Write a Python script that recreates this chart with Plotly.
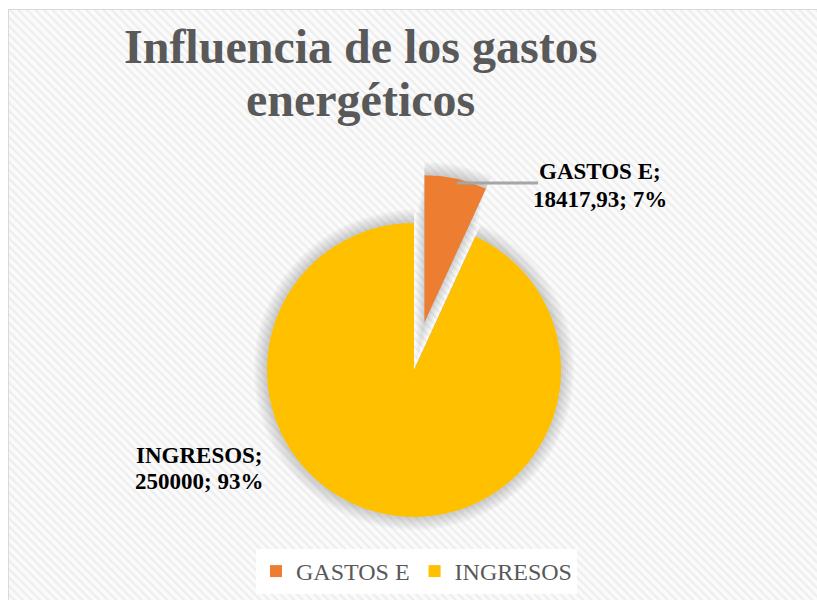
import plotly.graph_objects as go

# Data
labels = ["GASTOS E", "INGRESOS"]
values = [18417.93, 250000]
colors = ["#ED7D31", "#FFC000"]
pulls = [0.333, 0.0]

title_lines = ["Influencia de los gastos", "energéticos"]

W, H = 817, 600


def fx(x):
    return x / W


def fy(y):
    return 1 - y / H


def fmt_value(v):
    if float(v).is_integer():
        return str(int(v))
    return f"{v:.2f}".replace(".", ",")


total = sum(values)
pcts = [round(v / total * 100) for v in values]

# pie geometry (pixels)
cx, cy, r = 414, 370, 147


def pie_domain(radius, pull_list):
    # plotly shrinks the pie by (1 + largest pull) inside its domain
    half = radius * (1 + max(pull_list))
    return dict(x=[fx(cx - half), fx(cx + half)],
                y=[fy(cy + half), fy(cy - half)])


fig = go.Figure()

# patterned chart background
fig.add_trace(go.Scatter(
    x=[fx(9), 1, 1, fx(9), fx(9)], y=[0, 0, fy(10), fy(10), 0],
    mode="none", fill="toself", fillcolor="white",
    fillpattern=dict(shape="\\", fgcolor="#e1e1e1", bgcolor="#fbfbfb",
                     size=6, solidity=0.4),
    hoverinfo="skip", showlegend=False))


def shadow_pie(radius, pull_list, opacity):
    # translucent grey copy of the pie used as a soft drop shadow
    return go.Pie(
        labels=labels, values=values, pull=pull_list,
        sort=False, direction="clockwise", rotation=0,
        marker=dict(colors=["#808080", "#808080"], line=dict(width=0)),
        opacity=opacity, textinfo="none", hoverinfo="skip",
        showlegend=False, domain=pie_domain(radius, pull_list))


# shadow filling the gap between the slices
for p in [0.08, 0.15, 0.22, 0.28]:
    fig.add_trace(shadow_pie(r - 1, [p, 0.0], 0.08))

# soft shadow around the pie
for k in [13, 11, 9, 7, 5, 3.5, 2]:
    fig.add_trace(shadow_pie(r + k, [pulls[0] * r / (r + k), 0.0], 0.055))

fig.add_trace(go.Pie(
    labels=labels, values=values, pull=pulls, sort=False,
    direction="clockwise", rotation=0,
    marker=dict(colors=colors, line=dict(width=0)),
    textinfo="none", domain=pie_domain(r, pulls)))

annotations = []
# title, one annotation per line for tight line spacing
for text, yc in zip(title_lines, [46, 99]):
    annotations.append(dict(
        text=f"<b>{text}</b>", x=fx(360), y=fy(yc), xref="paper", yref="paper",
        xanchor="center", yanchor="middle", showarrow=False,
        font=dict(family="Liberation Serif", size=48, color="#595959")))

# data labels
label_pos = [(600, [172, 199]), (199, [455, 481])]
for lab, v, p, (lx, ys) in zip(labels, values, pcts, label_pos):
    lines = [f"{lab};", f"{fmt_value(v)}; {p}%"]
    for text, yc in zip(lines, ys):
        annotations.append(dict(
            text=f"<b>{text}</b>", x=fx(lx), y=fy(yc), xref="paper", yref="paper",
            xanchor="center", yanchor="middle", showarrow=False,
            font=dict(family="Liberation Serif", size=23, color="#000000")))

shapes = [
    # chart border
    dict(type="rect", xref="paper", yref="paper", x0=fx(9), x1=1.02, y0=-0.02, y1=fy(10),
         line=dict(color="#d9d9d9", width=2), layer="below"),
    # leader line of the small slice
    dict(type="line", xref="paper", yref="paper", x0=fx(457), x1=fx(538),
         y0=fy(183), y1=fy(183), line=dict(color="#a6a6a6", width=3)),
]

fig.update_layout(
    width=W, height=H,
    margin=dict(l=0, r=0, t=0, b=0),
    paper_bgcolor="white", plot_bgcolor="rgba(0,0,0,0)",
    xaxis=dict(visible=False, range=[0, 1], domain=[0, 1], fixedrange=True),
    yaxis=dict(visible=False, range=[0, 1], domain=[0, 1], fixedrange=True),
    annotations=annotations, shapes=shapes,
    legend=dict(orientation="h", x=fx(256), y=fy(549), xanchor="left", yanchor="top",
                bgcolor="white", borderwidth=0,
                font=dict(family="Liberation Serif", size=24, color="#595959"),
                itemwidth=30, tracegroupgap=0),
    showlegend=True,
)

fig.write_html("out.html")
